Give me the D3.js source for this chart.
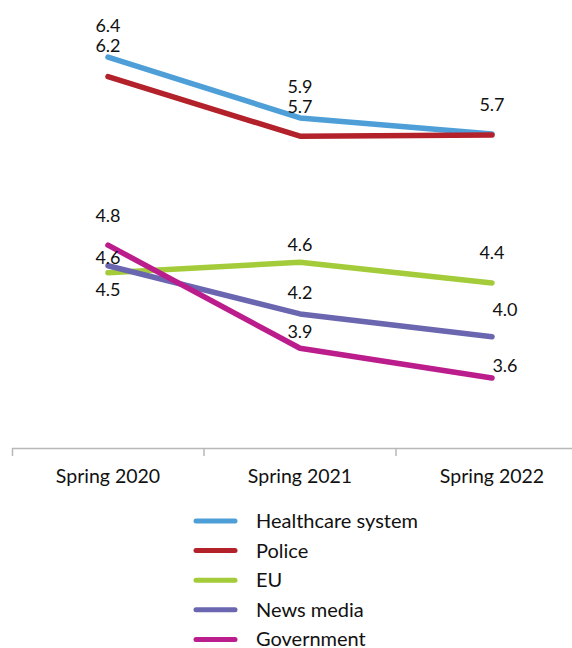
<!DOCTYPE html>
<html>
<head>
<meta charset="utf-8">
<script src="https://cdn.jsdelivr.net/npm/d3@7"></script>
<style>
  body { margin: 0; background: #fff; }
  svg { display: block; font-family: Lato, "Source Sans Pro", sans-serif; }
</style>
</head>
<body>
<svg id="chart"></svg>
<script>
// data
const periods = ["Spring 2020", "Spring 2021", "Spring 2022"];
const seriesNames = ["Healthcare system", "Police", "EU", "News media", "Government"];
const healthcare = [6.41, 5.88, 5.74];
const police = [6.24, 5.72, 5.73];
const eu = [4.53, 4.62, 4.44];
const newsMedia = [4.59, 4.17, 3.97];
const government = [4.77, 3.87, 3.61];
const valueLabels = [
  ["6.4", "5.9", "5.7"],
  ["6.2", "5.7", null],
  ["4.5", "4.6", "4.4"],
  ["4.6", "4.2", "4.0"],
  ["4.8", "3.9", "3.6"]
];

const colors = ["#4e9fd8", "#b3222a", "#a4cc3a", "#6b66b0", "#bb1e8c"];
// label nudges [dx, dy] relative to the point (dy is baseline offset)
const nudge = [
  [[0, -25], [0, -25], [0, -23]],
  [[0, -25], [0, -23], null],
  [[0, 23], [0, -11], [0, -24]],
  [[0, -2], [0, -15], [13, -21]],
  [[0, -23], [0, -10], [13, -6]]
];

const series = [healthcare, police, eu, newsMedia, government].map((values, i) => ({
  name: seriesNames[i],
  color: colors[i],
  values: values.map((v, j) => ({ period: periods[j], value: v, label: valueLabels[i][j], nudge: nudge[i][j] }))
}));

const width = 572, height = 648;
const svg = d3.select("#chart").attr("width", width).attr("height", height);

const x = d3.scaleBand().domain(periods).range([12, 588]);
const y = d3.scaleLinear().domain([3, 6.9]).range([448, 1]);
const cx = d => x(d) + x.bandwidth() / 2;

// axis
const axis = svg.append("g")
  .attr("transform", "translate(0,448)")
  .call(d3.axisBottom(x).tickSize(0).tickSizeOuter(8).tickPadding(21));
axis.select(".domain").attr("stroke", "#b8b8b8").attr("stroke-width", 1.5);
axis.selectAll("text").attr("font-size", 19.5).attr("fill", "#111")
  .attr("font-family", "Lato, sans-serif");
axis.selectAll(".inner-tick")
  .data(periods.slice(1))
  .enter().append("line")
  .attr("class", "inner-tick")
  .attr("x1", d => x(d)).attr("x2", d => x(d))
  .attr("y1", 0).attr("y2", 8)
  .attr("stroke", "#b8b8b8").attr("stroke-width", 1.5);

// lines
const line = d3.line().x(d => cx(d.period)).y(d => y(d.value));
svg.append("g").selectAll("path")
  .data(series)
  .enter().append("path")
  .attr("d", d => line(d.values))
  .attr("fill", "none")
  .attr("stroke", d => d.color)
  .attr("stroke-width", 5.5)
  .attr("stroke-linecap", "round")
  .attr("stroke-linejoin", "round");

// value labels
svg.append("g").selectAll("text")
  .data(series.flatMap(s => s.values.filter(v => v.label)))
  .enter().append("text")
  .attr("x", d => cx(d.period) + d.nudge[0])
  .attr("y", d => y(d.value) + d.nudge[1])
  .attr("text-anchor", "middle")
  .attr("font-size", 18)
  .attr("fill", "#111")
  .text(d => d.label);

// legend
const legend = svg.append("g").attr("transform", "translate(194,521)");
const row = legend.selectAll("g")
  .data(series)
  .enter().append("g")
  .attr("transform", (d, i) => `translate(0,${i * 29.6})`);
row.append("line")
  .attr("x1", 2).attr("x2", 41)
  .attr("stroke", d => d.color)
  .attr("stroke-width", 5)
  .attr("stroke-linecap", "round");
row.append("text")
  .attr("x", 62)
  .attr("dy", "0.35em")
  .attr("font-size", 20)
  .attr("fill", "#111")
  .text(d => d.name);
</script>
</body>
</html>
